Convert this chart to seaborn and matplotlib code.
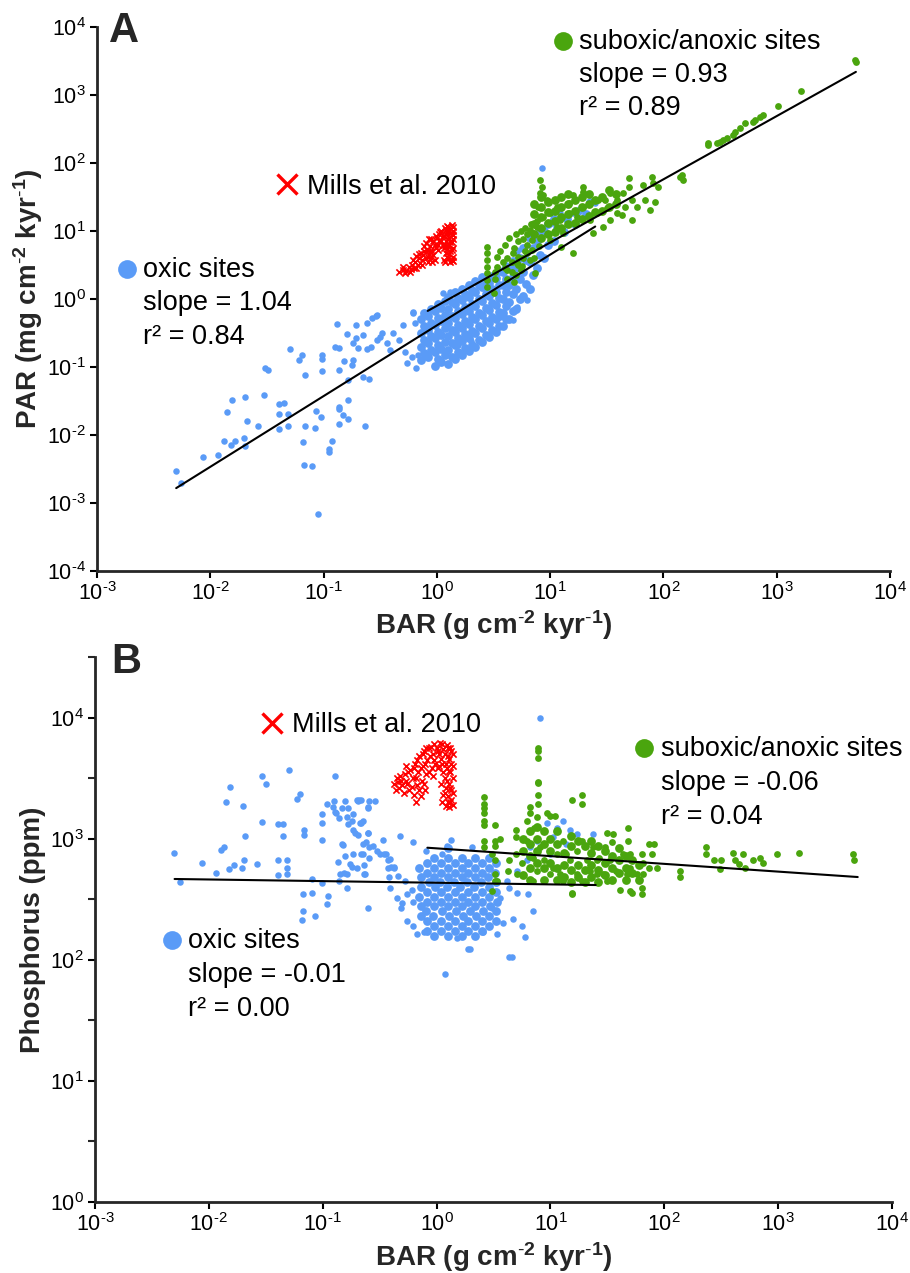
import numpy as np
import pandas as pd
import matplotlib
matplotlib.use("Agg")
import matplotlib.pyplot as plt
import seaborn as sns
from matplotlib.ticker import FixedLocator, NullLocator, NullFormatter

sns.set_style("ticks")
plt.rcParams["font.family"] = ["Liberation Sans", "DejaVu Sans"]
plt.rcParams["mathtext.fontset"] = "custom"
plt.rcParams["mathtext.rm"] = "Liberation Sans"
plt.rcParams["mathtext.it"] = "Liberation Sans:italic"
plt.rcParams["mathtext.bf"] = "Liberation Sans:bold"

# ---------------- data (log10 BAR, log10 value) ----------------
# Panel A : PAR vs BAR
oxic_A_scatter = [
    (-2.30, -2.53), (-2.26, -2.71), (-2.06, -2.32), (-1.93, -2.29), (-1.88, -2.09), (-1.82, -2.15),
    (-1.78, -2.09), (-1.70, -2.04), (-1.69, -2.16), (-1.85, -1.66), (-1.81, -1.49), (-1.69, -1.44),
    (-1.68, -1.79), (-1.58, -1.87), (-1.53, -1.41), (-1.52, -1.01), (-1.49, -1.04), (-1.39, -1.54),
    (-1.35, -1.53), (-1.39, -1.69), (-1.31, -1.69), (-1.39, -1.91), (-1.31, -1.87), (-1.30, -0.74),
    (-1.22, -0.90), (-1.19, -0.82), (-1.16, -1.12), (-1.18, -2.10), (-1.17, -2.44), (-1.10, -2.46),
    (-1.16, -1.87), (-1.08, -1.90), (-1.07, -1.65), (-1.02, -1.74), (-1.05, -3.16), (-1.01, -1.06),
    (-1.01, -0.88), (-1.01, -0.82), (-0.95, -2.21), (-0.95, -2.25), (-0.93, -2.09), (-0.86, -1.04),
    (-0.88, -0.37), (-0.90, -0.71), (-0.86, -0.72), (-0.86, -1.59), (-0.86, -1.62), (-0.78, -1.49),
    (-0.83, -1.71), (-0.86, -1.84), (-0.78, -1.76), (-0.78, -1.19), (-0.82, -0.91), (-0.75, -0.97),
    (-0.74, -0.90), (-0.79, -0.51), (-0.71, -0.57), (-0.65, -1.15), (-0.60, -1.18), (-0.63, -1.87),
    (-0.71, -0.38), (-0.62, -0.35), (-0.54, -0.25), (-0.57, -0.28), (-0.62, -0.74), (-0.58, -0.71),
    (-0.65, -0.53), (-0.53, -0.60), (-0.48, -0.50), (-0.41, -0.75), (-0.39, -0.50), (-0.33, -0.60),
    (-0.30, -0.38), (-0.28, -0.78), (-0.26, -0.94), (-0.21, -0.21), (-0.19, -0.35), (-0.18, -1.01),
    (-0.22, -0.85), (-0.17, -0.82), (-0.44, -0.65), (-0.50, -0.56), (-0.74, -0.65), (-0.70, -0.72),
    (-0.53, -0.24), (-0.21, -0.19), (0.05, 0.09), (0.12, 0.10), (0.23, 0.13),
    (0.67, -0.31), (0.30, -0.62), (0.19, -0.67), (0.56, -0.26), (0.71, -0.12), (0.80, -0.01),
    (0.93, 1.93), (1.09, 1.26), (1.20, 1.26), (1.26, 1.31), (1.40, 1.41), (1.02, 1.12),
    (1.11, 1.01), (0.97, 0.97),
]
oxic_A_core = [
    (-0.14, -0.90), (-0.11, -0.80), (-0.14, -0.70), (-0.11, -0.60), (-0.14, -0.50), (-0.11, -0.40),
    (-0.14, -0.30), (-0.11, -0.20), (-0.08, -0.85), (-0.05, -0.75), (-0.08, -0.65), (-0.05, -0.55),
    (-0.08, -0.45), (-0.05, -0.35), (-0.08, -0.25), (-0.05, -0.15), (-0.02, -0.98), (0.01, -0.88),
    (-0.02, -0.78), (0.01, -0.68), (-0.02, -0.58), (0.01, -0.48), (-0.02, -0.38), (0.01, -0.28),
    (-0.02, -0.18), (0.01, -0.08), (0.04, -0.93), (0.07, -0.83), (0.04, -0.73), (0.07, -0.63),
    (0.04, -0.53), (0.07, -0.43), (0.04, -0.33), (0.07, -0.23), (0.04, -0.13), (0.07, -0.03),
    (0.10, -0.95), (0.13, -0.85), (0.10, -0.75), (0.13, -0.65), (0.10, -0.55), (0.13, -0.45),
    (0.10, -0.35), (0.13, -0.25), (0.10, -0.15), (0.13, -0.05), (0.10, 0.03), (0.16, -0.88),
    (0.19, -0.78), (0.16, -0.68), (0.19, -0.58), (0.16, -0.48), (0.19, -0.38), (0.16, -0.28),
    (0.19, -0.18), (0.16, -0.08), (0.19, 0.02), (0.16, 0.10), (0.22, -0.82), (0.25, -0.72),
    (0.22, -0.62), (0.25, -0.52), (0.22, -0.42), (0.25, -0.32), (0.22, -0.22), (0.25, -0.12),
    (0.22, -0.02), (0.25, 0.08), (0.22, 0.15), (0.28, -0.77), (0.31, -0.67), (0.28, -0.57),
    (0.31, -0.47), (0.28, -0.37), (0.31, -0.27), (0.28, -0.17), (0.31, -0.07), (0.28, 0.03),
    (0.31, 0.13), (0.28, 0.20), (0.34, -0.70), (0.37, -0.60), (0.34, -0.50), (0.37, -0.40),
    (0.34, -0.30), (0.37, -0.20), (0.34, -0.10), (0.37, 0.00), (0.34, 0.10), (0.37, 0.20),
    (0.34, 0.26), (0.40, -0.63), (0.43, -0.53), (0.40, -0.43), (0.43, -0.33), (0.40, -0.23),
    (0.43, -0.13), (0.40, -0.03), (0.43, 0.07), (0.40, 0.17), (0.43, 0.27), (0.40, 0.33),
    (0.46, -0.56), (0.49, -0.46), (0.46, -0.36), (0.49, -0.26), (0.46, -0.16), (0.49, -0.06),
    (0.46, 0.04), (0.49, 0.14), (0.46, 0.24), (0.49, 0.34), (0.52, -0.49), (0.55, -0.39),
    (0.52, -0.29), (0.55, -0.19), (0.52, -0.09), (0.55, 0.01), (0.52, 0.11), (0.55, 0.21),
    (0.52, 0.31), (0.55, 0.41), (0.58, -0.40), (0.61, -0.30), (0.58, -0.20), (0.61, -0.10),
    (0.58, 0.00), (0.61, 0.10), (0.58, 0.20), (0.61, 0.30), (0.58, 0.40), (0.61, 0.48),
    (0.64, -0.30), (0.67, -0.18), (0.64, -0.05), (0.67, 0.08), (0.64, 0.20), (0.67, 0.32),
    (0.64, 0.45), (0.67, 0.56), (0.70, -0.15), (0.73, 0.00), (0.70, 0.15), (0.73, 0.30),
    (0.70, 0.45), (0.73, 0.60), (0.70, 0.70), (0.76, 0.05), (0.79, 0.22), (0.76, 0.40),
    (0.79, 0.58), (0.76, 0.75), (0.82, 0.15), (0.85, 0.35), (0.82, 0.55), (0.85, 0.75),
    (0.82, 0.90), (0.88, 0.45), (0.91, 0.65), (0.88, 0.85), (0.91, 1.00), (0.95, 0.60),
    (0.98, 0.80), (0.95, 1.00), (0.98, 1.10), (1.03, 0.85), (1.06, 1.05), (1.03, 1.18),
    (1.12, 0.98), (1.15, 1.18), (1.22, 1.10), (1.25, 1.30), (1.32, 1.25), (1.35, 1.42),
]
anoxic_A = [
    (2.39, 2.26), (2.39, 2.29), (2.47, 2.29), (2.50, 2.31), (2.53, 2.34), (2.56, 2.37), (2.61, 2.41),
    (2.63, 2.46), (2.68, 2.51), (2.72, 2.59), (2.79, 2.60), (2.81, 2.63), (2.85, 2.68), (2.88, 2.71),
    (3.01, 2.84), (3.21, 3.06), (3.69, 3.51), (3.70, 3.49), (2.15, 1.79), (2.17, 1.75), (2.16, 1.82),
    (1.90, 1.79), (1.91, 1.71), (1.95, 1.65), (1.93, 1.43), (1.84, 1.46), (1.82, 1.68), (1.70, 1.78),
    (1.70, 1.65), (1.72, 1.46), (1.72, 1.16), (1.64, 1.56), (1.66, 1.35), (1.59, 1.46), (1.59, 1.26),
    (1.53, 1.56), (1.53, 1.16), (1.48, 1.46), (1.47, 1.06), (1.42, 1.46), (1.41, 1.26), (1.38, 0.97),
    (1.35, 1.16), (1.29, 1.65), (1.29, 1.57), (1.20, 1.53), (1.17, 1.26), (1.20, 0.68), (1.11, 0.97),
    (1.10, 0.76), (1.06, 1.06), (1.00, 0.87), (0.91, 1.75), (0.91, 1.56), (0.89, 1.35), (0.88, 1.06),
    (0.85, 0.97), (0.84, 0.87), (0.82, 1.01), (0.80, 0.68), (0.87, 0.38), (0.71, 0.53), (0.67, 0.68),
    (0.62, 0.43), (0.53, 0.62), (0.53, 0.47), (0.44, 0.76), (0.44, 0.67), (0.44, 0.57), (0.44, 0.47),
    (0.44, 0.38), (0.44, 0.28), (0.44, 0.18), (0.50, 0.09), (0.51, 0.30), (0.51, 0.40),
    (1.00, 1.26), (1.06, 1.35), (1.17, 1.41), (1.09, 1.16), (1.24, 1.21), (0.94, 1.21), (0.97, 1.46),
    (1.29, 1.35), (1.50, 1.34), (1.63, 1.24), (1.77, 1.35), (1.88, 1.31), (0.93, 1.65), (0.94, 1.53),
    (0.60, 0.45), (0.66, 0.55), (0.72, 0.62), (0.78, 0.70), (0.70, 0.35), (0.75, 0.48), (0.82, 0.58),
    (0.56, 0.70), (0.60, 0.80), (0.62, 0.60), (0.64, 0.90), (0.68, 0.75), (0.70, 0.95), (0.72, 0.85),
    (0.74, 1.00), (0.76, 0.88), (0.78, 1.05), (0.80, 0.95), (0.80, 0.80), (0.83, 1.10), (0.84, 0.72),
    (0.88, 1.15), (0.58, 0.55), (0.66, 0.40), (0.72, 0.50), (0.76, 0.60), (0.86, 0.60), (0.90, 0.78),
    (0.62, 0.30), (0.68, 0.25), (0.74, 0.42),
]
anoxic_A_core = [
    (0.86, 0.95), (0.86, 1.10), (0.86, 1.25), (0.86, 1.40), (0.92, 0.90), (0.92, 1.05), (0.92, 1.20),
    (0.92, 1.35), (0.92, 1.50), (0.98, 0.95), (0.98, 1.12), (0.98, 1.28), (0.98, 1.42), (1.04, 0.98),
    (1.04, 1.15), (1.04, 1.30), (1.04, 1.45), (1.10, 1.05), (1.10, 1.20), (1.10, 1.35), (1.10, 1.50),
    (1.16, 1.10), (1.16, 1.25), (1.16, 1.40), (1.16, 1.55), (1.22, 1.12), (1.22, 1.30), (1.22, 1.45),
    (1.28, 1.18), (1.28, 1.35), (1.28, 1.50), (1.34, 1.22), (1.34, 1.40), (1.34, 1.55), (1.40, 1.28),
    (1.40, 1.45), (1.46, 1.30), (1.46, 1.50), (1.52, 1.35), (1.52, 1.60), (1.58, 1.40), (1.58, 1.55),
]
mills_A = [
    (-0.33, 0.40), (-0.30, 0.43), (-0.27, 0.41), (-0.24, 0.40), (-0.25, 0.47), (-0.22, 0.50),
    (-0.20, 0.46), (-0.19, 0.55), (-0.17, 0.50), (-0.16, 0.60), (-0.15, 0.53), (-0.13, 0.57),
    (-0.12, 0.65), (-0.14, 0.68), (-0.10, 0.60), (-0.09, 0.72), (-0.08, 0.55), (-0.07, 0.66),
    (-0.06, 0.78), (-0.05, 0.60), (-0.04, 0.70), (-0.03, 0.85), (-0.02, 0.57), (-0.01, 0.75),
    (0.00, 0.90), (0.01, 0.80), (0.02, 0.95), (0.04, 1.00), (0.04, 0.85), (0.06, 0.75),
    (0.06, 0.93), (0.07, 1.05), (0.07, 0.55), (0.08, 0.68), (0.08, 0.85), (0.09, 0.97),
    (0.09, 1.08), (0.10, 0.60), (0.10, 0.78), (0.11, 0.90), (0.11, 1.02), (0.12, 0.55),
    (0.12, 0.70), (0.12, 0.84), (0.13, 0.96), (0.13, 1.09), (0.14, 0.62), (0.14, 0.75),
    (0.14, 0.88), (0.14, 1.00), (-0.11, 0.78), (-0.18, 0.63), (-0.21, 0.58), (-0.07, 0.88),
    (0.05, 0.80), (-0.30, 0.47), (-0.28, 0.38), (-0.23, 0.44), (-0.18, 0.45), (-0.16, 0.66),
    (-0.13, 0.50), (-0.11, 0.70), (-0.10, 0.82), (-0.08, 0.62), (-0.06, 0.70), (-0.05, 0.88),
    (-0.04, 0.55), (-0.03, 0.65), (-0.02, 0.80), (-0.01, 0.92), (0.01, 0.72), (0.02, 0.86),
    (0.03, 0.98), (0.05, 0.92), (0.06, 0.58), (0.07, 0.80), (0.08, 0.95), (0.08, 1.02),
    (0.09, 0.62), (0.09, 0.74), (0.10, 0.88), (0.10, 1.06), (0.11, 0.66), (0.11, 0.80),
    (0.12, 0.97), (0.13, 0.58), (0.13, 0.72), (0.13, 0.84), (0.14, 0.56), (0.14, 0.94),
    (0.14, 1.06),
]

# Panel B : Phosphorus vs BAR
oxic_B_scatter = [
    (-2.31, 2.88), (-2.25, 2.64), (-2.06, 2.80), (-1.94, 2.72), (-1.89, 2.91), (-1.87, 2.93),
    (-1.85, 3.30), (-1.81, 3.43), (-1.82, 2.75), (-1.78, 2.78), (-1.71, 2.76), (-1.69, 2.82),
    (-1.70, 3.27), (-1.68, 3.02), (-1.58, 2.79), (-1.53, 3.14), (-1.53, 3.52), (-1.50, 3.45),
    (-1.39, 3.12), (-1.35, 3.12), (-1.35, 3.02), (-1.39, 2.82), (-1.31, 2.82), (-1.31, 2.76),
    (-1.31, 2.71), (-1.39, 2.70), (-1.30, 3.57), (-1.23, 3.33), (-1.20, 3.37), (-1.16, 3.07),
    (-1.16, 3.03), (-1.09, 2.67), (-1.01, 2.99), (-1.01, 3.13), (-1.01, 3.20), (-0.96, 3.29),
    (-0.90, 3.31), (-0.89, 3.52), (-0.89, 3.22), (-0.86, 3.17), (-0.87, 2.81), (-0.82, 2.95),
    (-0.80, 3.31), (-0.78, 3.25), (-0.78, 3.12), (-0.80, 2.86), (-0.79, 2.71), (-0.74, 2.77),
    (-0.73, 2.87), (-0.73, 3.20), (-0.69, 3.31), (-0.66, 3.32), (-0.66, 3.13), (-0.65, 3.15),
    (-0.73, 3.07), (-0.69, 3.03), (-0.65, 2.87), (-0.64, 2.78), (-0.64, 2.71), (-0.62, 2.97),
    (-0.60, 3.05), (-0.60, 3.25), (-0.59, 3.31), (-0.54, 3.31), (-0.59, 2.93), (-0.56, 2.94),
    (-0.52, 2.90), (-0.47, 2.99), (-0.50, 2.87), (-0.46, 2.87), (-0.43, 2.82), (-0.40, 2.77),
    (-0.37, 2.77), (-0.42, 2.68), (-0.91, 3.26), (-0.88, 3.21), (-0.83, 3.25), (-0.79, 3.18),
    (-0.70, 3.32), (-0.68, 3.32), (-0.60, 3.26), (-0.74, 3.15), (-0.72, 3.05), (-0.67, 3.13),
    (-0.60, 3.05), (-0.83, 2.96), (-0.65, 2.96), (-0.44, 2.87), (-0.41, 2.83), (-0.32, 3.02),
    (-0.21, 2.97), (-0.43, 2.76), (-0.37, 2.76), (-0.34, 2.69), (-0.41, 2.59), (-0.35, 2.51),
    (-0.28, 2.65), (-0.26, 2.54), (-0.30, 2.47), (-0.31, 2.43), (-0.22, 2.58), (-0.21, 2.48),
    (-0.26, 2.32), (-0.21, 2.28), (-0.17, 2.21), (-0.11, 2.23), (-0.60, 2.43), (-1.07, 2.36),
    (-1.09, 2.55), (-1.17, 2.54), (-1.18, 2.33), (-1.17, 2.40), (-1.01, 2.63), (-0.95, 2.53),
    (-0.96, 2.46), (-0.86, 2.65), (-0.79, 2.59), (-0.85, 2.71), (-0.81, 2.72), (-0.76, 2.79),
    (-0.66, 2.87), (-0.70, 2.76), (-0.63, 2.71), (-0.59, 2.84), (-0.09, 2.90), (0.13, 2.99),
    (0.09, 2.94), (0.05, 2.87), (0.31, 2.93), (0.07, 1.88), (0.64, 2.02), (0.28, 2.09),
    (0.91, 4.00), (0.85, 2.40), (0.78, 2.19), (0.66, 2.02), (0.75, 2.28), (0.58, 2.30),
    (0.67, 2.34), (0.29, 2.09), (0.18, 2.18), (0.41, 2.23), (0.53, 2.21), (0.49, 2.43),
    (0.56, 2.51), (0.64, 2.59), (0.71, 2.55), (0.80, 2.54), (0.97, 3.13), (1.06, 3.09),
    (1.11, 3.15), (1.17, 3.07), (1.23, 3.04), (1.37, 3.04), (1.02, 3.01), (1.14, 2.96),
    (1.00, 2.87), (0.88, 2.98), (0.79, 2.82), (0.71, 2.73), (0.62, 2.65), (0.82, 2.93),
]
oxic_B_core = [
    (-0.14, 2.36), (-0.14, 2.44), (-0.15, 2.52), (-0.14, 2.60), (-0.14, 2.68), (-0.15, 2.76),
    (-0.08, 2.24), (-0.08, 2.32), (-0.09, 2.40), (-0.08, 2.48), (-0.08, 2.56), (-0.07, 2.64),
    (-0.08, 2.72), (-0.08, 2.80), (-0.02, 2.20), (-0.02, 2.28), (-0.03, 2.36), (-0.02, 2.44),
    (-0.02, 2.52), (-0.01, 2.60), (-0.02, 2.68), (-0.02, 2.76), (-0.02, 2.84), (0.04, 2.24),
    (0.04, 2.32), (0.05, 2.40), (0.04, 2.48), (0.04, 2.56), (0.03, 2.64), (0.04, 2.72),
    (0.04, 2.80), (0.10, 2.20), (0.10, 2.28), (0.11, 2.36), (0.10, 2.44), (0.10, 2.52),
    (0.09, 2.60), (0.10, 2.68), (0.10, 2.76), (0.10, 2.84), (0.10, 2.92), (0.16, 2.24),
    (0.16, 2.32), (0.17, 2.40), (0.16, 2.48), (0.16, 2.56), (0.15, 2.64), (0.16, 2.72),
    (0.16, 2.80), (0.22, 2.20), (0.22, 2.28), (0.23, 2.36), (0.22, 2.44), (0.22, 2.52),
    (0.21, 2.60), (0.22, 2.68), (0.22, 2.76), (0.22, 2.84), (0.28, 2.24), (0.28, 2.32),
    (0.29, 2.40), (0.28, 2.48), (0.28, 2.56), (0.27, 2.64), (0.28, 2.72), (0.28, 2.80),
    (0.34, 2.20), (0.34, 2.28), (0.35, 2.36), (0.34, 2.44), (0.34, 2.52), (0.33, 2.60),
    (0.34, 2.68), (0.34, 2.76), (0.34, 2.84), (0.40, 2.24), (0.40, 2.32), (0.41, 2.40),
    (0.40, 2.48), (0.40, 2.56), (0.39, 2.64), (0.40, 2.72), (0.40, 2.80), (0.46, 2.28),
    (0.46, 2.36), (0.47, 2.44), (0.46, 2.52), (0.46, 2.60), (0.45, 2.68), (0.46, 2.76),
    (0.46, 2.84), (0.52, 2.32), (0.52, 2.40), (0.53, 2.48), (0.52, 2.56), (0.52, 2.64),
    (0.51, 2.72), (0.52, 2.80),
]
anoxic_B = [
    (0.42, 3.34), (0.42, 3.29), (0.42, 3.25), (0.42, 3.21), (0.42, 3.15), (0.42, 3.11),
    (0.42, 2.98), (0.42, 2.93), (0.51, 3.11), (0.51, 2.98), (0.51, 2.94), (0.51, 2.82),
    (0.51, 2.71), (0.51, 2.65), (0.89, 3.75), (0.89, 3.72), (0.89, 3.67), (0.89, 3.47),
    (0.89, 3.46), (0.89, 3.36), (0.89, 3.29), (0.82, 3.21), (0.88, 3.18), (0.86, 3.09),
    (0.97, 3.21), (1.00, 3.19), (1.04, 3.19), (1.19, 3.32), (1.28, 3.36), (1.28, 3.29),
    (1.50, 3.05), (1.55, 3.04), (1.68, 3.09), (1.68, 2.98), (1.70, 2.87), (1.54, 2.97),
    (1.87, 2.96), (1.89, 2.87), (1.87, 2.76), (1.80, 2.87), (1.81, 2.71), (1.80, 2.59),
    (1.72, 2.55), (1.61, 2.58), (1.50, 2.65), (1.41, 2.71), (1.28, 2.65), (1.19, 2.55),
    (1.11, 2.65), (1.00, 2.71), (0.85, 2.65), (0.71, 2.71), (0.63, 2.73), (0.64, 2.82),
    (0.70, 2.87), (0.79, 2.98), (0.91, 2.93), (0.94, 2.82), (1.06, 2.87), (1.11, 2.98),
    (1.17, 2.82), (1.23, 2.90), (1.28, 2.98), (1.32, 2.82), (1.35, 2.73), (1.37, 2.93),
    (1.43, 2.84), (1.48, 2.93), (1.52, 2.82), (1.58, 2.73), (1.64, 2.87), (1.67, 2.71),
    (0.85, 2.84), (0.75, 2.80), (0.88, 2.73), (1.02, 2.76), (1.08, 2.71), (1.23, 2.71),
    (1.14, 2.87), (1.41, 2.82), (1.46, 2.71), (1.76, 2.71), (1.70, 2.76), (1.81, 2.80),
    (1.94, 2.76), (1.91, 2.96), (1.70, 2.57), (1.19, 2.54), (1.80, 2.54), (0.70, 3.07),
    (0.70, 3.01), (0.56, 3.00), (0.49, 2.87), (0.79, 3.15), (0.82, 3.26), (0.49, 2.57),
    (0.53, 2.65), (2.14, 2.73), (2.14, 2.68), (2.37, 2.93), (2.37, 2.87), (2.44, 2.82),
    (2.50, 2.82), (2.49, 2.75), (2.60, 2.88), (2.62, 2.82), (2.66, 2.79), (2.69, 2.87),
    (2.71, 2.76), (2.78, 2.82), (2.84, 2.84), (2.87, 2.80), (2.99, 2.87), (3.18, 2.88),
    (3.66, 2.87), (3.67, 2.82),
]
anoxic_B_core = [
    (0.76, 2.70), (0.76, 2.90), (0.76, 3.00), (0.82, 2.66), (0.82, 2.76), (0.82, 2.86),
    (0.82, 2.96), (0.82, 3.06), (0.88, 2.80), (0.88, 2.90), (0.88, 3.00), (0.88, 3.10),
    (0.94, 2.66), (0.94, 2.76), (0.94, 2.96), (0.94, 3.06), (1.00, 2.80), (1.00, 2.90),
    (1.00, 3.00), (1.06, 2.66), (1.06, 2.76), (1.06, 2.96), (1.06, 3.06), (1.12, 2.68),
    (1.12, 2.78), (1.12, 2.88), (1.18, 2.64), (1.18, 2.74), (1.18, 2.94), (1.18, 3.02),
    (1.24, 2.68), (1.24, 2.78), (1.24, 2.98), (1.30, 2.64), (1.30, 2.74), (1.30, 2.94),
    (1.36, 2.68), (1.36, 2.78), (1.36, 2.88), (1.36, 2.98), (1.42, 2.64), (1.42, 2.74),
    (1.42, 2.94), (1.48, 2.70), (1.48, 2.80), (1.48, 2.90), (1.54, 2.66), (1.54, 2.76),
    (1.54, 2.86), (1.60, 2.72), (1.60, 2.82), (1.60, 2.92), (1.66, 2.66), (1.66, 2.76),
    (1.66, 2.86), (1.72, 2.72), (1.72, 2.82), (1.78, 2.66), (1.78, 2.78),
]
mills_B = [
    (-0.37, 3.45), (-0.35, 3.50), (-0.33, 3.42), (-0.31, 3.48), (-0.29, 3.38), (-0.28, 3.53),
    (-0.26, 3.45), (-0.24, 3.40), (-0.23, 3.57), (-0.21, 3.50), (-0.20, 3.36), (-0.19, 3.62),
    (-0.17, 3.44), (-0.16, 3.55), (-0.15, 3.68), (-0.14, 3.35), (-0.13, 3.48), (-0.12, 3.60),
    (-0.11, 3.72), (-0.10, 3.40), (-0.09, 3.53), (-0.08, 3.65), (-0.07, 3.75), (-0.04, 3.58),
    (-0.03, 3.70), (-0.02, 3.78), (-0.01, 3.62), (0.01, 3.72), (0.02, 3.60), (0.03, 3.79),
    (0.04, 3.66), (0.04, 3.45), (0.05, 3.30), (0.06, 3.55), (0.06, 3.74), (0.07, 3.38),
    (0.08, 3.62), (0.08, 3.27), (0.09, 3.48), (0.09, 3.77), (0.10, 3.35), (0.10, 3.68),
    (0.11, 3.56), (0.11, 3.26), (0.12, 3.42), (0.12, 3.75), (0.13, 3.62), (0.13, 3.32),
    (0.14, 3.50), (0.14, 3.70), (0.14, 3.28), (-0.18, 3.30), (-0.27, 3.60),
    (-0.36, 3.40), (-0.34, 3.47), (-0.32, 3.52), (-0.30, 3.44), (-0.27, 3.48), (-0.25, 3.55),
    (-0.22, 3.43), (-0.20, 3.58), (-0.18, 3.50), (-0.17, 3.65), (-0.15, 3.40), (-0.14, 3.58),
    (-0.12, 3.70), (-0.11, 3.45), (-0.10, 3.62), (-0.09, 3.75), (-0.07, 3.55), (-0.06, 3.68),
    (-0.05, 3.76), (-0.03, 3.52), (-0.02, 3.65), (0.00, 3.75), (0.01, 3.58), (0.02, 3.70),
    (0.05, 3.62), (0.05, 3.78), (0.06, 3.36), (0.07, 3.50), (0.07, 3.70), (0.08, 3.42),
    (0.09, 3.58), (0.10, 3.30), (0.10, 3.75), (0.11, 3.45), (0.11, 3.66), (0.12, 3.55),
    (0.12, 3.30), (0.13, 3.72), (0.13, 3.40), (0.14, 3.60), (0.14, 3.38),
]

# regression fits (slope on log-log, intercept, BAR range)
fit_A_oxic = dict(slope=1.04, intercept=-0.388, xmin=0.005, xmax=25.0)
fit_A_anoxic = dict(slope=0.93, intercept=-0.10, xmin=0.83, xmax=5000.0)
fit_B_oxic = dict(slope=-0.0135, intercept=2.636, xmin=0.005, xmax=25.0)
fit_B_anoxic = dict(slope=-0.064, intercept=2.920, xmin=0.83, xmax=5000.0)

decades_x = [-3, -2, -1, 0, 1, 2, 3, 4]
decades_yA = [-4, -3, -2, -1, 0, 1, 2, 3, 4]
decades_yB = [0, 1, 2, 3, 4]

BLUE = "#5A9BF7"
GREEN = "#4AA50E"
RED = "#FF0000"


def frame(*pairs_lists):
    arr = np.array([p for lst in pairs_lists for p in lst], dtype=float)
    return pd.DataFrame({"BAR": 10 ** arr[:, 0], "VAL": 10 ** arr[:, 1]})


def fit_frame(f):
    xs = np.array([f["xmin"], f["xmax"]])
    ys = 10 ** (f["intercept"] + f["slope"] * np.log10(xs))
    return pd.DataFrame({"BAR": xs, "VAL": ys})


def dec_label(k):
    if k < 0:
        return r"$\mathdefault{10^{\text{-}%d}}$" % (-k)
    return r"$\mathdefault{10^{%d}}$" % k


W, H = 910, 1273
fig = plt.figure(figsize=(W / 100, H / 100), dpi=100)


def fx(px):
    return px / W


def fy(py):
    return 1 - py / H


axA = fig.add_axes([fx(97), fy(571), (890 - 97) / W, (571 - 27) / H])
axB = fig.add_axes([fx(95), fy(1202), (892 - 95) / W, (1202 - 657) / H])

for ax in (axA, axB):
    ax.set_xscale("log")
    ax.set_yscale("log")

panels = [
    (axA, frame(oxic_A_scatter), frame(oxic_A_core), frame(anoxic_A), frame(anoxic_A_core),
     frame(mills_A), fit_A_oxic, fit_A_anoxic),
    (axB, frame(oxic_B_scatter), frame(oxic_B_core), frame(anoxic_B), frame(anoxic_B_core),
     frame(mills_B), fit_B_oxic, fit_B_anoxic),
]

for ax, d_ox, d_oxc, d_an, d_anc, d_mi, f_ox, f_an in panels:
    sns.scatterplot(data=d_oxc, x="BAR", y="VAL", ax=ax, color=BLUE, s=40, linewidth=0, legend=False, zorder=2)
    sns.scatterplot(data=d_ox, x="BAR", y="VAL", ax=ax, color=BLUE, s=22, linewidth=0, legend=False, zorder=2)
    sns.scatterplot(data=d_anc, x="BAR", y="VAL", ax=ax, color=GREEN, s=40, linewidth=0, legend=False, zorder=3)
    sns.scatterplot(data=d_an, x="BAR", y="VAL", ax=ax, color=GREEN, s=24, linewidth=0, legend=False, zorder=3)
    sns.scatterplot(data=d_mi, x="BAR", y="VAL", ax=ax, color=RED, marker="x", s=20, linewidth=1.2,
                    legend=False, zorder=4)
    for f in (f_ox, f_an):
        sns.lineplot(data=fit_frame(f), x="BAR", y="VAL", ax=ax, color="black", linewidth=1.5,
                     estimator=None, sort=False, zorder=6)
    ax.set_xlim(1e-3, 1e4)
    ax.set_xticks([10.0 ** k for k in decades_x])
    ax.set_xticklabels([dec_label(k) for k in decades_x])
    ax.xaxis.set_minor_locator(NullLocator())
    for side in ("top", "right"):
        ax.spines[side].set_visible(False)
    for side in ("left", "bottom"):
        ax.spines[side].set_linewidth(2.0)
    ax.tick_params(axis="both", which="major", direction="out", length=5, width=1.5,
                   labelsize=15.5, pad=3, color="black", labelcolor="black")

axA.set_ylim(1e-4, 1e4)
axA.set_yticks([10.0 ** k for k in decades_yA])
axA.set_yticklabels([dec_label(k) for k in decades_yA])
axA.yaxis.set_minor_locator(NullLocator())

axB.set_ylim(1.0, 10 ** 4.5)
axB.set_yticks([10.0 ** k for k in decades_yB])
axB.set_yticklabels([dec_label(k) for k in decades_yB])
axB.yaxis.set_minor_locator(FixedLocator([10 ** (k + 0.5) for k in decades_yB]))
axB.yaxis.set_minor_formatter(NullFormatter())
axB.tick_params(axis="y", which="minor", direction="out", length=5, width=1.5)

lab_kw = dict(fontsize=20, fontweight="bold")
xlab = r"BAR (g cm$^{\mathbf{\text{-}2}}$ kyr$^{\mathbf{\text{-}1}}$)"
axA.set_xlabel(xlab, **lab_kw)
axA.set_ylabel(r"PAR (mg cm$^{\mathbf{\text{-}2}}$ kyr$^{\mathbf{\text{-}1}}$)", **lab_kw)
axB.set_xlabel(xlab, **lab_kw)
axB.set_ylabel("Phosphorus (ppm)", **lab_kw)
axA.xaxis.set_label_coords(0.5, -0.068)
axA.yaxis.set_label_coords(-0.066, 0.5)
axB.xaxis.set_label_coords(0.5, -0.070)
axB.yaxis.set_label_coords(-0.062, 0.5)

# panel letters
fig.text(fx(109), fy(42), "A", fontsize=30, fontweight="bold", va="baseline", ha="left")
fig.text(fx(111), fy(673), "B", fontsize=30, fontweight="bold", va="baseline", ha="left")

# in-plot legend annotations
ann = dict(fontsize=19.5, va="baseline", ha="left", color="black")


def key(ax, px, py, marker, color, ms, mew=0):
    ax.plot([fx(px)], [fy(py)], marker=marker, color=color, markersize=ms, markeredgewidth=mew,
            linestyle="none", transform=fig.transFigure, clip_on=False)


key(axA, 127, 269, "o", BLUE, 13.5)
fig.text(fx(143), fy(277), "oxic sites", **ann)
fig.text(fx(143), fy(310), "slope = 1.04", **ann)
fig.text(fx(143), fy(344), "r² = 0.84", **ann)

key(axA, 287, 184, "x", RED, 14, 2.4)
fig.text(fx(307), fy(194), "Mills et al. 2010", **ann)

key(axA, 563, 41, "o", GREEN, 13.5)
fig.text(fx(579), fy(49), "suboxic/anoxic sites", **ann)
fig.text(fx(579), fy(82), "slope = 0.93", **ann)
fig.text(fx(579), fy(115), "r² = 0.89", **ann)

key(axB, 272, 723, "x", RED, 14, 2.4)
fig.text(fx(292), fy(732), "Mills et al. 2010", **ann)

key(axB, 644, 748, "o", GREEN, 13.5)
fig.text(fx(661), fy(756), "suboxic/anoxic sites", **ann)
fig.text(fx(661), fy(790), "slope = -0.06", **ann)
fig.text(fx(661), fy(824), "r² = 0.04", **ann)

key(axB, 172, 940, "o", BLUE, 13.5)
fig.text(fx(188), fy(948), "oxic sites", **ann)
fig.text(fx(188), fy(982), "slope = -0.01", **ann)
fig.text(fx(188), fy(1016), "r² = 0.00", **ann)

fig.savefig("out.png", dpi=100, facecolor="white")
